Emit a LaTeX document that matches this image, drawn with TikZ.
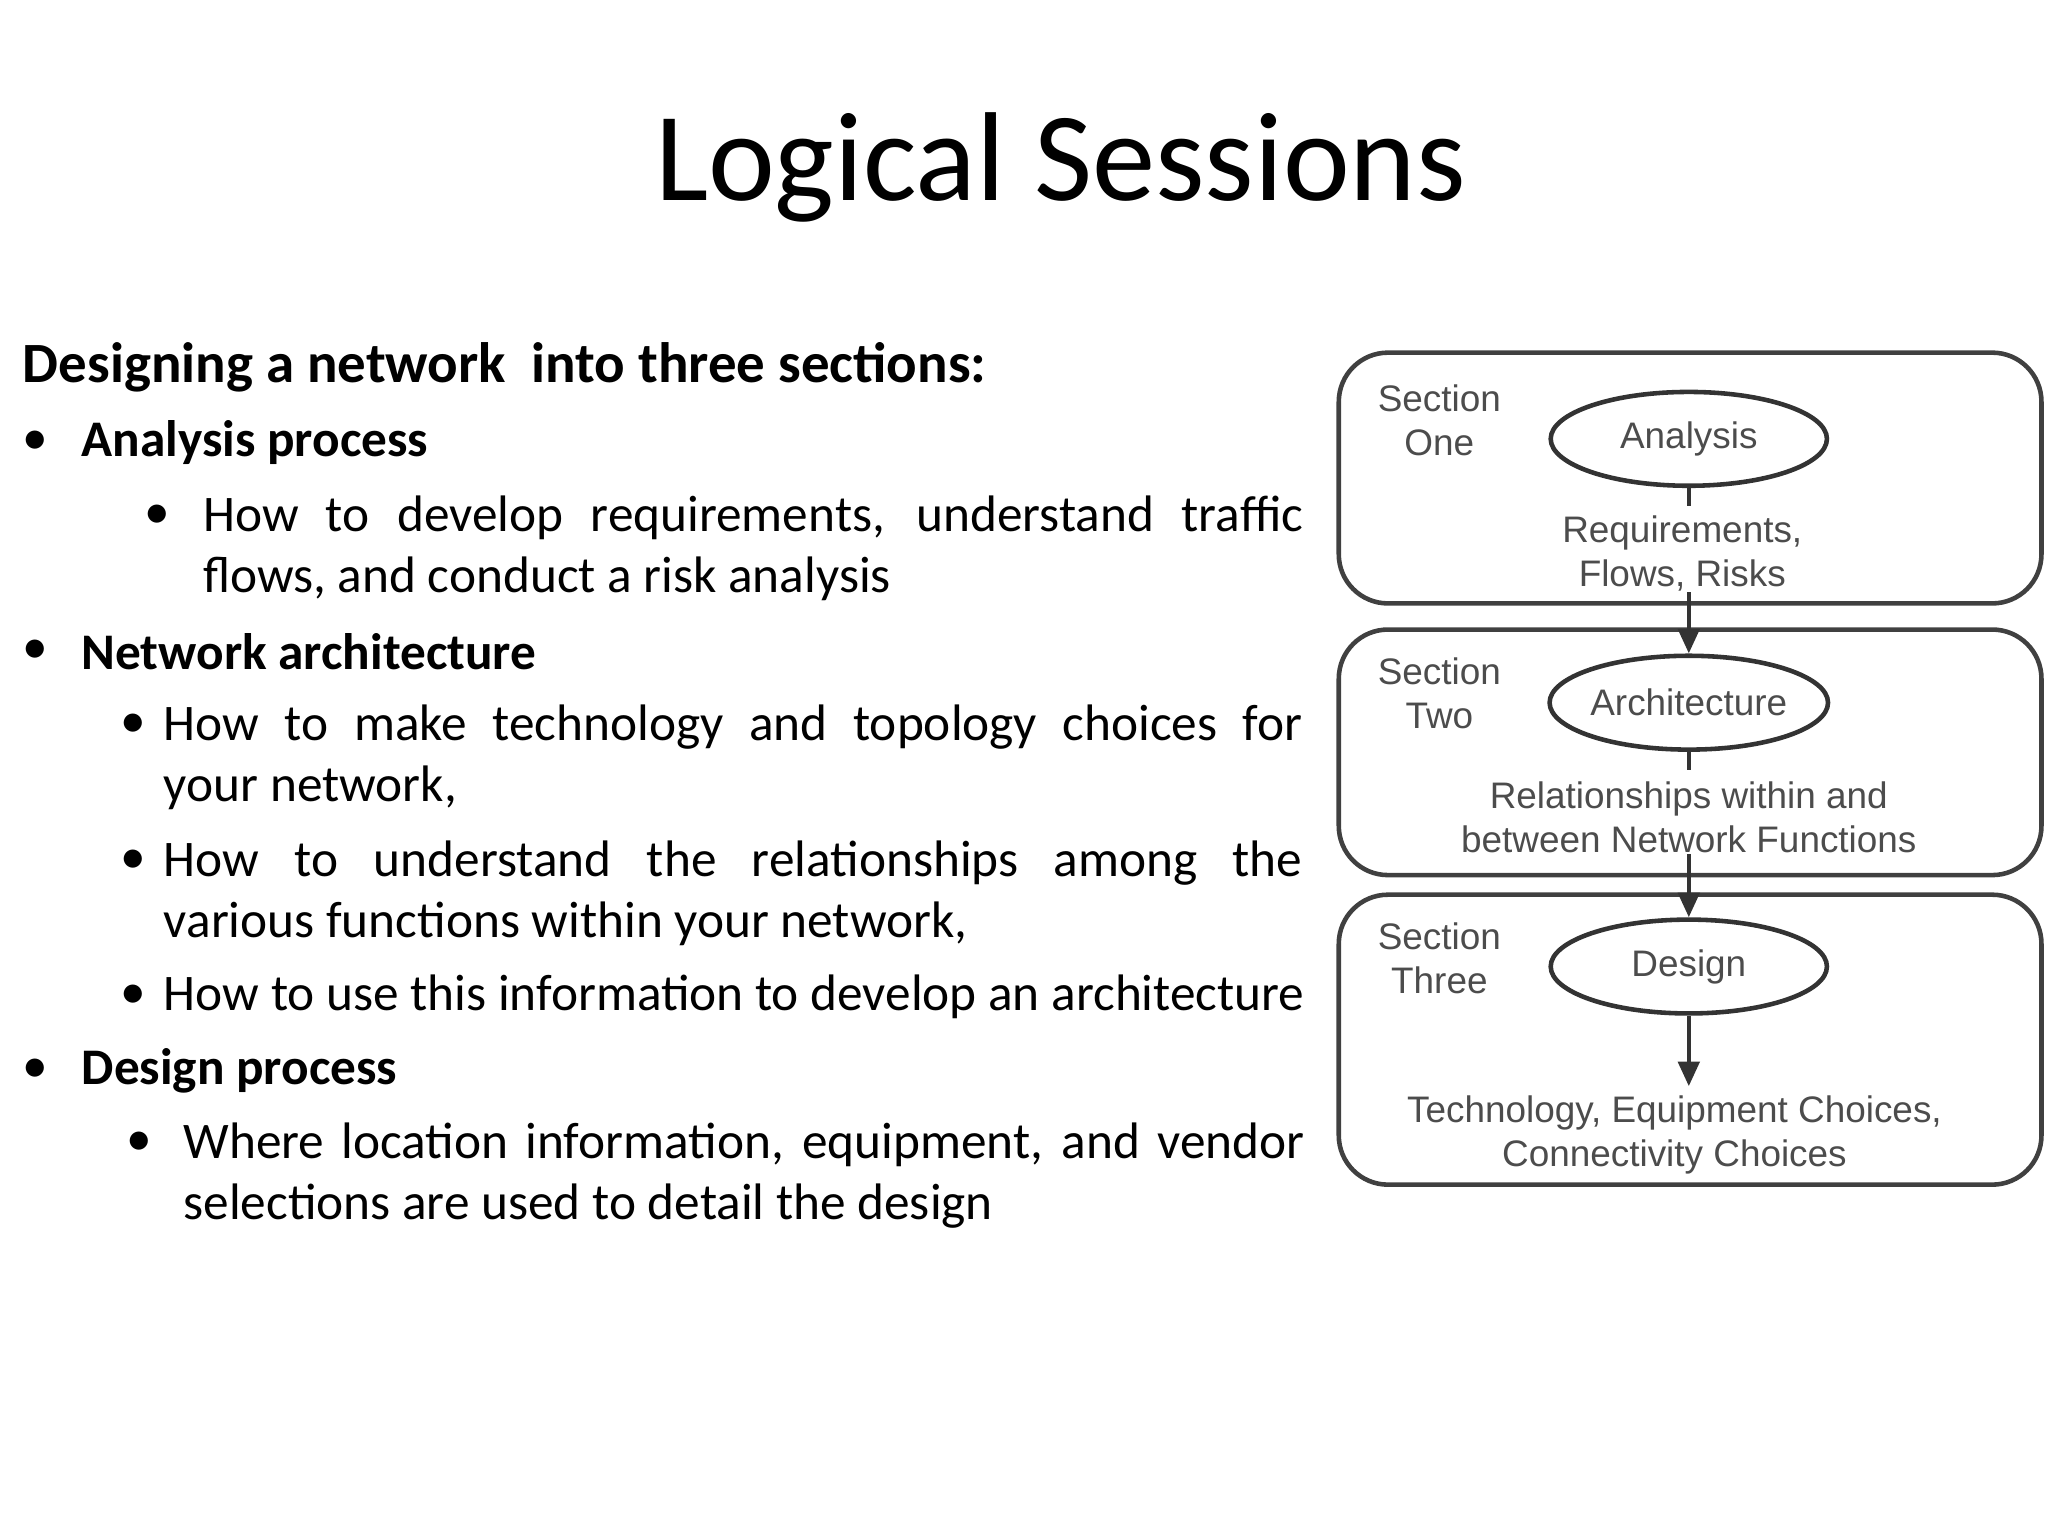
\documentclass[tikz,border=0pt]{standalone}
\usepackage{fontspec}
\setmainfont{Carlito}
\newfontfamily\diag{Liberation Sans}
\usetikzlibrary{shapes.geometric,arrows.meta}
\begin{document}
\begin{tikzpicture}[x=0.01306cm,y=-0.01306cm,
  txt/.style={inner sep=0,font=\fontsize{14.6}{17.4}\selectfont,anchor=north west,align=justify},
  bul/.style={inner sep=0,font=\fontsize{14.6}{17.4}\selectfont,anchor=west},
  sec/.style={draw=black!75,line width=1.3pt,rounded corners=14pt},
  ell/.style={draw=black!80,line width=1.3pt,ellipse,inner sep=0pt,minimum width=78.6pt,minimum height=26.7pt,font=\diag\fontsize{10.5}{12}\selectfont,text=black!70},
  dt/.style={font=\diag\fontsize{10.5}{12.5}\selectfont,text=black!70,align=center,inner sep=0},
  arr/.style={-{Triangle[length=7pt,width=6pt]},line width=1.3pt,black!80}]
\useasboundingbox (0,0) rectangle (1568,1176);
\node[inner sep=0,font=\fontsize{36}{40}\selectfont] (title) at (812,128) {Logical Sessions};
\node[bul,font=\bfseries\fontsize{16.2}{19}\selectfont] (h) at (17,281) {Designing a network\ \ into three sections:};
\node[bul] (b1) at (17,339) {•}; \node[bul,font=\bfseries\fontsize{14.6}{17.4}\selectfont] (t1) at (62,339) {Analysis process};
\node[bul] (b11) at (110,396) {•};
\node[txt,text width=313pt] (t11) at (155,379) {How to develop requirements, understand traffic flows, and conduct a risk analysis};
\node[bul] (b2) at (17,499) {•}; \node[bul,font=\bfseries\fontsize{14.6}{17.4}\selectfont] (t2) at (62,499) {Network architecture};
\node[bul] (b21) at (92,556) {•};
\node[txt,text width=324pt] (t21) at (125,539) {How to make technology and topology choices for\linebreak your network,};
\node[bul] (b22) at (92,660) {•};
\node[txt,text width=324pt] (t22) at (125,643) {How to understand the relationships among the\linebreak various functions within your network,};
\node[bul] (b23) at (92,763) {•};
\node[bul] (t23) at (125,763) {How to use this information to develop an architecture};
\node[bul] (b3) at (17,820) {•}; \node[bul,font=\bfseries\fontsize{14.6}{17.4}\selectfont] (t3) at (62,820) {Design process};
\node[bul] (b31) at (96,876) {•};
\node[txt,text width=319pt] (t31) at (140,859) {Where location information, equipment, and vendor selections are used to detail the design};
% diagram
\draw[sec] (1025,270) rectangle (1563,462);
\draw[sec] (1025,482) rectangle (1563,670);
\draw[sec] (1025,685) rectangle (1563,907);
\node[dt] (s1) at (1102,322) {Section\\One};
\node[dt] (s2) at (1102,531) {Section\\Two};
\node[dt] (s3) at (1102,734) {Section\\Three};
\node[ell] (e1) at (1293,336) {Analysis};
\node[ell] (e2) at (1293,538) {Architecture};
\node[ell] (e3) at (1293,740) {Design};
\node[dt] (r1) at (1288,424) {Requirements,\\Flows, Risks};
\node[dt] (r2) at (1293,626) {Relationships within and\\between Network Functions};
\node[dt] (r3) at (1282,869) {Technology, Equipment Choices,\\Connectivity Choices};
\draw[line width=1.3pt,black!80] (e1.south) -- ++(0,14);
\draw[line width=1.3pt,black!80] (e2.south) -- ++(0,14);
\draw[arr] (r1.south -| e1.south) -- (e2.north);
\draw[arr] (r2.south -| e2.south) -- (e3.north);
\draw[arr] (e3.south) -- ++(0,54) coordinate (c3);
\end{tikzpicture}
\end{document}
